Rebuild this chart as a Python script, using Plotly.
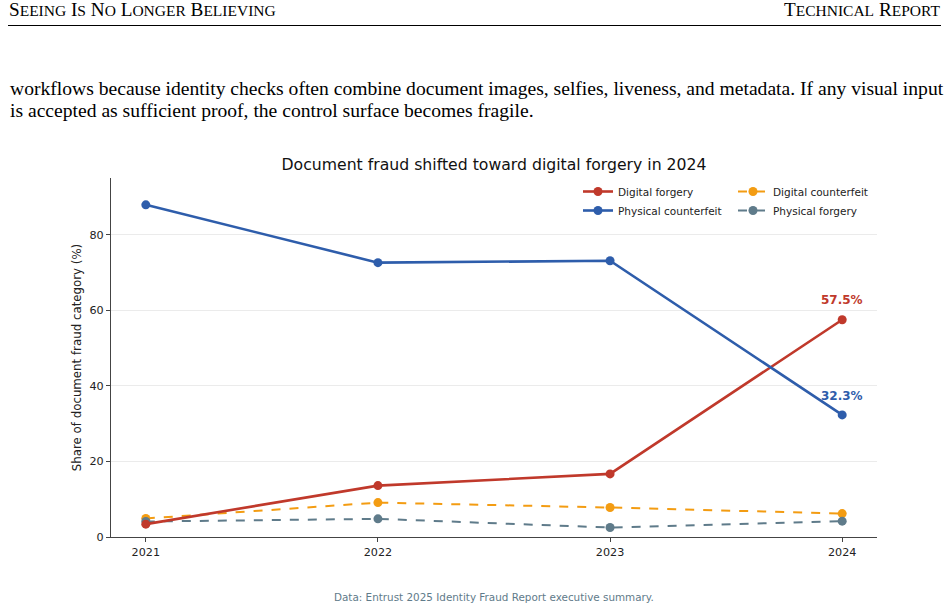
import plotly.graph_objects as go

years = [2021, 2022, 2023, 2024]
digital_forgery = [3.4, 13.6, 16.7, 57.5]
physical_counterfeit = [87.9, 72.6, 73.1, 32.3]
digital_counterfeit = [4.9, 9.1, 7.8, 6.2]
physical_forgery = [4.1, 4.8, 2.5, 4.2]
y_ticks = [0, 20, 40, 60, 80]

RED = "#c0392b"
BLUE = "#2e5dab"
ORANGE = "#f39c12"
SLATE = "#5f7b8a"

W, H = 949, 610
L, R, T, B = 111, 72, 178, 73

fig = go.Figure()

def add(name, vals, color, dash, width, legend):
    fig.add_trace(go.Scatter(
        x=years, y=vals, name=name, mode="lines+markers",
        line=dict(color=color, width=width, dash=dash),
        marker=dict(color=color, size=9),
        legend=legend,
    ))

add("Digital counterfeit", digital_counterfeit, ORANGE, "dash", 2, "legend2")
add("Physical forgery", physical_forgery, SLATE, "dash", 2, "legend2")
add("Digital forgery", digital_forgery, RED, "solid", 2.6, "legend")
add("Physical counterfeit", physical_counterfeit, BLUE, "solid", 2.6, "legend")

font_sans = "DejaVu Sans"

def smallcaps(text, big, small):
    out = []
    for word in text.split(" "):
        first, rest = word[0], word[1:]
        out.append(f'<span style="font-size:{big}px">{first}</span>'
                   + (f'<span style="font-size:{small}px">{rest.upper()}</span>' if rest else ""))
    return " ".join(out)

def px_x(px):
    return (px - L) / (W - L - R)

def px_y(py):
    return (H - B - py) / (H - T - B)

def page_text(text, x, y, xanchor, yanchor, font):
    return dict(text=text, x=px_x(x), y=px_y(y), xref="paper", yref="paper",
                xanchor=xanchor, yanchor=yanchor, showarrow=False, font=font)

serif = "Liberation Serif"
annotations = [
    page_text(smallcaps("Seeing Is No Longer Believing", 19.2, 15.5), 7, 22, "left", "bottom",
              dict(family=serif, size=19.2, color="#000")),
    page_text(smallcaps("Technical Report", 19.2, 15.5), 942, 22, "right", "bottom",
              dict(family=serif, size=19.2, color="#000")),
    page_text("workflows because identity checks often combine document images, selfies, liveness, and metadata. If any visual input",
              8, 88, "left", "middle", dict(family=serif, size=19.6, color="#000")),
    page_text("is accepted as sufficient proof, the control surface becomes fragile.",
              8, 111, "left", "middle", dict(family=serif, size=19.6, color="#000")),
    page_text("Data: Entrust 2025 Identity Fraud Report executive summary.",
              494, 597, "center", "middle", dict(family=font_sans, size=10.4, color="#5f7b8a")),
    dict(text="<b>57.5%</b>", x=years[3], y=digital_forgery[3], xref="x", yref="y",
         showarrow=False, yshift=20, font=dict(family=font_sans, size=12, color=RED)),
    dict(text="<b>32.3%</b>", x=years[3], y=physical_counterfeit[3], xref="x", yref="y",
         showarrow=False, yshift=19, font=dict(family=font_sans, size=12, color=BLUE)),
]

shapes = [
    dict(type="line", xref="paper", yref="paper", x0=px_x(8), x1=px_x(941),
         y0=px_y(25.5), y1=px_y(25.5), line=dict(color="#000", width=1)),
]

legend_common = dict(
    font=dict(family=font_sans, size=10.5, color="#222"),
    bgcolor="rgba(0,0,0,0)", borderwidth=0, orientation="v",
    xanchor="left", yanchor="top", itemwidth=30, tracegroupgap=0,
)

fig.update_layout(
    width=W, height=H,
    margin=dict(l=L, r=R, t=T, b=B, pad=0),
    paper_bgcolor="white", plot_bgcolor="white",
    title=dict(text="Document fraud shifted toward digital forgery in 2024",
               x=494 / W, xanchor="center", y=1 - 165 / H, yanchor="middle",
               font=dict(family=font_sans, size=15.7, color="#111")),
    legend=dict(legend_common, x=px_x(578), y=px_y(177)),
    legend2=dict(legend_common, x=px_x(733), y=px_y(177)),
    annotations=annotations,
    shapes=shapes,
    showlegend=True,
    font=dict(family=font_sans, color="#222"),
)

fig.update_xaxes(
    range=[2020.85, 2024.15], tickvals=years, ticktext=[str(y) for y in years],
    showgrid=False, zeroline=False, showline=True, linecolor="#444", linewidth=1.2,
    ticks="outside", ticklen=4, tickcolor="#444", tickfont=dict(family=font_sans, size=11.2, color="#222"),
)
fig.update_yaxes(
    range=[0, 95], tickvals=y_ticks,
    showgrid=True, gridcolor="#ebebeb", gridwidth=1, zeroline=False,
    showline=True, linecolor="#444", linewidth=1.2,
    ticks="outside", ticklen=4, tickcolor="#444", tickfont=dict(family=font_sans, size=11.2, color="#222"),
    title=dict(text="Share of document fraud category (%)", font=dict(family=font_sans, size=11.8, color="#222"), standoff=5),
)

fig.write_html("out.html")
